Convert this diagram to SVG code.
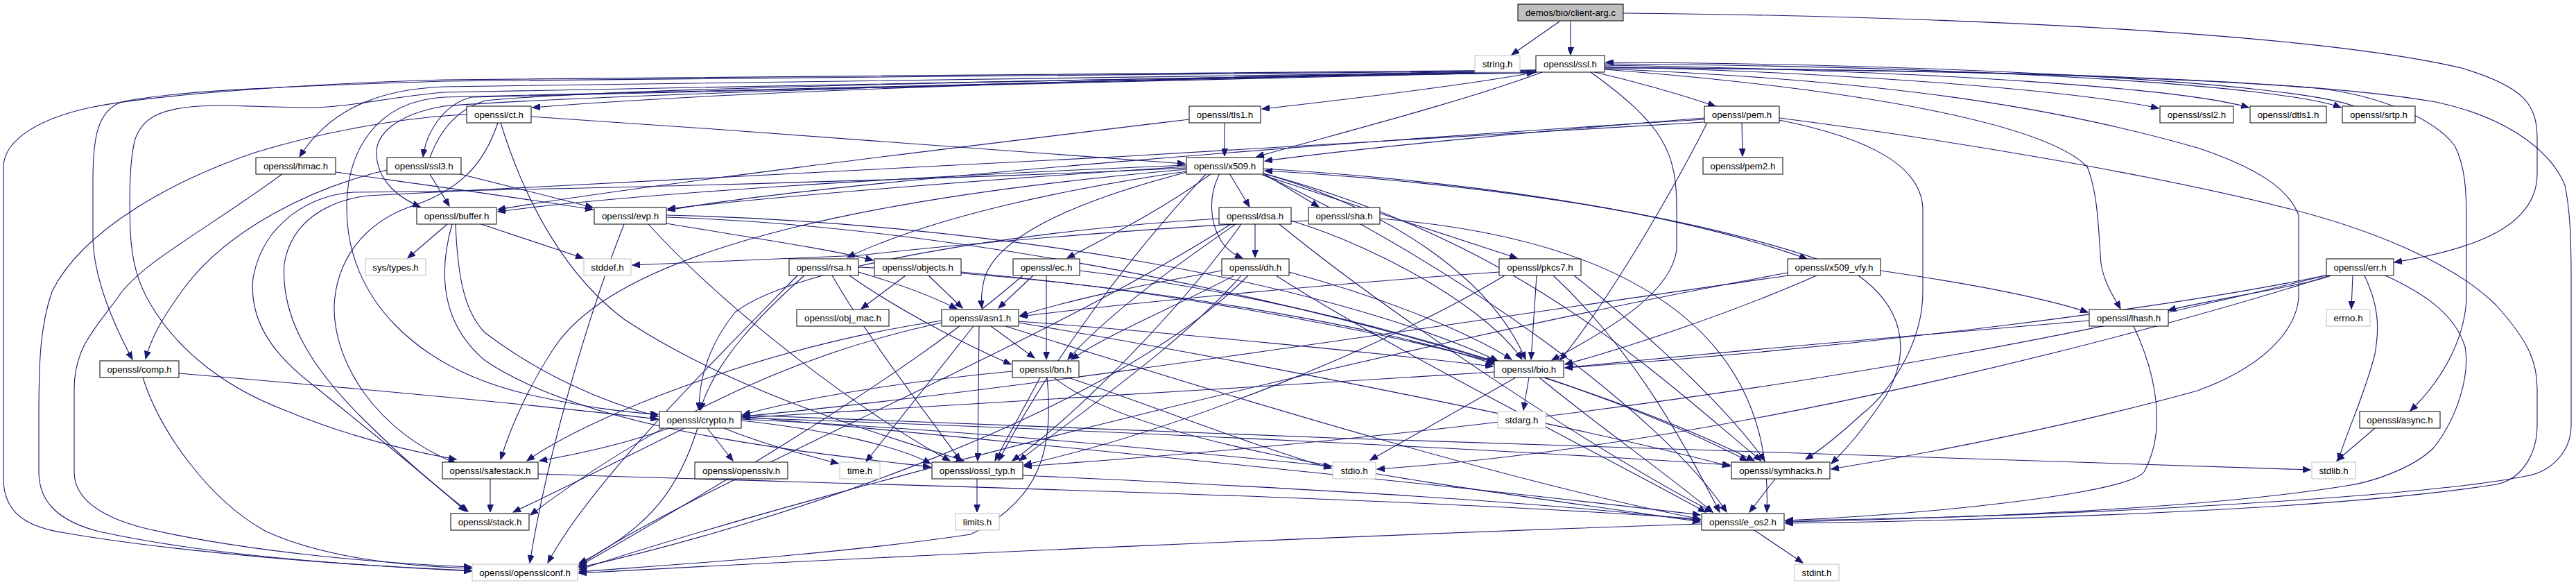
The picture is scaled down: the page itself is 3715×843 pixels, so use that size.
<svg xmlns="http://www.w3.org/2000/svg" width="3715" height="843" viewBox="0 0 3715 843">
<style>
.n rect{fill:#fff;stroke:#000;stroke-width:1}
.n.g rect{stroke:#bfbfbf}
.n.d rect{fill:#bfbfbf}
.n text{font-family:"Liberation Sans",Arial,sans-serif;font-size:13.3px;text-anchor:middle;fill:#000}
.e path{fill:none;stroke:#191970;stroke-width:1.1;marker-end:url(#a)}
</style>
<defs>
<marker id="a" markerWidth="12" markerHeight="9" refX="11" refY="4.5" orient="auto" markerUnits="userSpaceOnUse"><path d="M0,0 L11,4.5 L0,9 z" fill="#191970" stroke="#191970" stroke-width="1"/></marker>
</defs>
<rect width="3715" height="843" fill="#fff"/>
<g id="edges" class="e">
<path d="M2249,31 L2180,79"/>
<path d="M2265,31 L2265,79"/>
<path d="M2341,19 C2700,22 3300,40 3550,98 C3640,125 3659,150 3659,200 L3659,250 C3659,330 3560,360 3453,378"/>
<path d="M2215,101 C1800,110 1100,127 768,155"/>
<path d="M2216,104 C2100,125 1900,148 1820,157"/>
<path d="M2300,104 C2360,118 2420,135 2474,153"/>
<path d="M2314,96 C2700,106 3000,132 3113,156"/>
<path d="M2314,94 C2800,102 3150,128 3243,155"/>
<path d="M2314,92 C2900,96 3300,126 3376,155"/>
<path d="M3395,153 C3300,118 2800,92 2316,90"/>
<path d="M2224,104 C2100,150 1900,200 1812,226"/>
<path d="M2215,103 C1700,112 900,118 640,125 C560,128 480,150 432,226"/>
<path d="M2215,104 C1600,118 900,130 680,140 C640,150 615,190 610,226"/>
<path d="M2215,102 C1500,108 800,112 640,117 C450,123 250,130 175,147 C140,160 134,200 134,260 L134,340 C134,400 165,470 191,518"/>
<path d="M2215,101 C1500,105 800,110 640,115 C400,122 200,140 130,155 C60,170 6,200 5,240 L5,690 C5,740 40,760 94,768 C250,795 500,815 680,823"/>
<path d="M2215,103 C1500,112 900,125 640,133 C560,140 500,155 449,155 C380,155 330,150 286,153 C230,157 206,170 195,200 C187,230 186,280 188,333 C190,380 200,410 218,440 C260,510 330,560 408,590 C480,620 560,645 658,662"/>
<path d="M2215,104 C1500,115 800,140 640,153 C570,165 540,195 543,225 C546,262 575,285 606,298"/>
<path d="M2215,104 C1600,115 900,130 640,140 C540,146 500,220 500,300 C500,430 600,530 760,568 C850,588 900,594 949,597"/>
<path d="M2294,104 C2400,180 2418,220 2418,300 L2418,360 C2410,420 2330,470 2238,519"/>
<path d="M2314,100 C2700,130 2950,180 3010,240 C3026,280 3026,330 3030,380 C3035,410 3050,430 3058,445"/>
<path d="M2314,97 C2700,100 3100,108 3341,127 C3430,137 3510,170 3540,210 C3556,240 3557,280 3557,320 L3557,430 C3555,480 3530,540 3476,592"/>
<path d="M2314,98 C2800,100 3300,110 3513,147 C3620,170 3680,220 3699,267 C3706,300 3708,340 3708,400 L3708,613 C3708,650 3680,680 3643,686 C3500,715 3000,745 2575,750"/>
<path d="M2314,99 C2700,115 2950,150 3169,213 C3250,240 3300,270 3315,310 L3315,430 C3310,480 3260,530 3169,563 C3000,610 2800,650 2641,676"/>
<path d="M3362,397 C3330,410 3200,430 3127,447"/>
<path d="M3358,396 C3150,440 2700,500 2257,530"/>
<path d="M3358,396 C3100,460 2500,600 1477,672"/>
<path d="M3360,397 C3100,480 2500,640 1986,676"/>
<path d="M3393,397 L3391,445"/>
<path d="M3410,397 C3430,440 3432,470 3425,510 C3410,570 3385,620 3372,664"/>
<path d="M3440,397 C3490,420 3540,450 3555,500 C3562,540 3545,600 3510,645 C3480,675 3420,695 3384,700 C3200,730 2900,745 2575,752"/>
<path d="M2512,177 L2513,225"/>
<path d="M2458,170 C2200,190 1950,215 1824,232"/>
<path d="M2458,172 C2000,200 1200,260 963,303"/>
<path d="M2458,176 C1900,212 900,265 530,282 C470,290 420,320 410,380 C405,450 440,520 520,600 C590,670 640,710 675,737"/>
<path d="M2566,170 C2800,200 3100,250 3298,300 C3420,330 3540,380 3600,440 C3645,490 3659,520 3659,560 L3659,613 C3659,650 3640,690 3600,698 C3400,730 3000,748 2575,754"/>
<path d="M2566,173 C2700,200 2770,240 2773,300 L2773,420 C2773,500 2720,570 2686,596 C2660,620 2630,645 2604,662"/>
<path d="M2462,177 C2420,260 2330,420 2250,519"/>
<path d="M1773,250 L1802,298"/>
<path d="M1759,250 C1743,280 1743,320 1763,350 C1770,360 1780,367 1792,372"/>
<path d="M1747,250 C1680,300 1600,340 1539,372"/>
<path d="M1712,248 C1550,290 1440,340 1420,400 C1415,420 1415,435 1416,444"/>
<path d="M1711,247 C1550,270 1350,310 1222,371"/>
<path d="M1822,250 L1902,298"/>
<path d="M1820,252 L2188,372"/>
<path d="M1822,243 C2100,260 2400,300 2606,373"/>
<path d="M2620,373 C2400,300 2100,262 1824,246"/>
<path d="M1822,250 C2000,300 2150,400 2200,518"/>
<path d="M1822,250 C2200,350 2400,550 2540,664"/>
<path d="M1822,252 C2100,380 2400,600 2490,738"/>
<path d="M1711,240 C1400,260 1100,285 963,301"/>
<path d="M1711,238 C1300,255 900,280 718,305"/>
<path d="M1740,250 C1600,400 1500,550 1440,664"/>
<path d="M1711,244 C1300,280 900,350 800,500 C760,560 735,620 722,662"/>
<path d="M1711,242 C1300,262 700,275 510,277 C450,280 380,320 365,400 C360,450 380,500 449,553 C520,610 620,690 672,737"/>
<path d="M1766,177 L1766,225"/>
<path d="M1715,172 C1400,210 900,270 718,302"/>
<path d="M766,168 C1100,190 1500,220 1709,236"/>
<path d="M673,165 C600,168 480,185 367,220 C250,260 120,330 75,420 C58,470 56,520 56,600 L56,680 C56,720 80,750 143,766 C300,800 500,815 680,822"/>
<path d="M718,177 C700,230 670,270 600,295 C520,320 485,380 482,440 C480,520 540,620 658,668"/>
<path d="M722,177 C760,300 820,400 900,460 C1050,560 1250,620 1390,664"/>
<path d="M258,538 C400,550 700,575 949,604"/>
<path d="M206,544 C230,620 300,720 384,766 C460,800 560,815 680,819"/>
<path d="M408,250 C300,330 200,380 169,430 C140,470 107,500 107,560 L107,680 C107,710 130,740 204,760 C350,795 550,812 680,817"/>
<path d="M484,248 C600,265 750,285 855,302"/>
<path d="M558,245 C450,270 330,330 267,413 C240,450 220,480 210,517"/>
<path d="M620,251 L648,297"/>
<path d="M660,250 C720,265 800,285 855,299"/>
<path d="M620,227 C630,200 650,160 700,145 C900,125 1700,112 2213,105"/>
<path d="M645,323 L588,372"/>
<path d="M694,323 L841,372"/>
<path d="M657,323 C660,400 670,450 700,480 C780,540 870,580 949,600"/>
<path d="M652,323 C630,400 640,470 700,520 C850,620 1150,650 1342,673"/>
<path d="M961,322 C1100,345 1200,360 1259,375"/>
<path d="M900,323 C850,450 790,650 764,811"/>
<path d="M935,323 C1050,450 1250,600 1370,664"/>
<path d="M961,313 C1500,330 2200,500 2530,664"/>
<path d="M961,310 C1400,320 1900,400 2160,520"/>
<path d="M1810,323 L1810,371"/>
<path d="M1782,323 C1700,380 1600,450 1540,518"/>
<path d="M1758,315 C1500,330 1150,380 1060,450 C1020,500 1008,550 1008,591"/>
<path d="M1862,318 C2000,360 2150,450 2195,518"/>
<path d="M1845,323 C2000,450 2300,650 2470,738"/>
<path d="M1790,323 C1700,450 1550,600 1460,664"/>
<path d="M1775,323 C1500,500 1000,700 835,815"/>
<path d="M1887,318 C1700,325 1400,350 1240,368 L912,382"/>
<path d="M1990,315 C2300,340 2560,450 2548,738"/>
<path d="M1780,397 C1700,440 1600,480 1545,518"/>
<path d="M1762,390 C1650,410 1550,430 1471,455"/>
<path d="M1859,392 C2000,430 2120,480 2180,518"/>
<path d="M1790,397 C1700,500 1550,600 1470,664"/>
<path d="M1840,397 C2000,500 2300,650 2460,738"/>
<path d="M1800,397 C1600,600 1100,760 835,818"/>
<path d="M1238,392 C1300,410 1350,430 1380,445"/>
<path d="M1225,397 C1300,450 1400,500 1458,525"/>
<path d="M1160,397 C1100,450 1030,520 1010,591"/>
<path d="M1238,385 C1600,400 2000,470 2155,525"/>
<path d="M1200,397 C1260,500 1340,600 1385,664"/>
<path d="M1150,397 C1000,550 850,700 790,811"/>
<path d="M1306,397 L1242,445"/>
<path d="M1339,397 L1388,444"/>
<path d="M1386,392 C1700,420 2000,480 2155,522"/>
<path d="M1490,397 L1440,444"/>
<path d="M1509,397 L1509,518"/>
<path d="M1557,390 C1900,430 2300,550 2520,664"/>
<path d="M1475,397 C1300,550 950,750 835,816"/>
<path d="M2162,392 C1900,410 1600,440 1471,456"/>
<path d="M2216,397 L2208,518"/>
<path d="M2240,397 C2350,500 2420,620 2480,738"/>
<path d="M2270,397 C2400,500 2500,600 2545,664"/>
<path d="M2170,397 C2000,500 1700,620 1477,670"/>
<path d="M2578,393 C2000,500 1200,700 835,821"/>
<path d="M2712,390 C2850,410 2950,430 3011,450"/>
<path d="M2620,397 C2500,450 2350,500 2257,525"/>
<path d="M2580,397 C2200,450 1500,560 1071,600"/>
<path d="M2680,397 C2740,440 2760,500 2720,570 C2700,600 2670,640 2641,668"/>
<path d="M3077,470 C3110,540 3125,620 3092,680 C3070,710 2800,740 2575,750"/>
<path d="M3013,462 C2800,480 2500,505 2257,530"/>
<path d="M1404,470 L1249,665"/>
<path d="M1412,470 L1410,664"/>
<path d="M1429,470 L1492,516"/>
<path d="M1469,463 C1700,480 2000,510 2153,528"/>
<path d="M1469,465 C1800,520 2300,620 2495,672"/>
<path d="M1450,470 C1800,580 2200,700 2452,748"/>
<path d="M1358,465 C1100,520 900,640 765,742"/>
<path d="M1358,462 C1100,500 850,600 760,664"/>
<path d="M1500,544 L1435,664"/>
<path d="M1460,535 C1300,550 1150,575 1071,598"/>
<path d="M1540,544 C1650,580 1800,640 1920,675"/>
<path d="M1520,544 C1650,650 2100,700 2452,752"/>
<path d="M1510,544 C1520,650 1500,720 1400,770 C1200,800 950,815 835,824"/>
<path d="M2205,544 L2197,591"/>
<path d="M2186,544 L1976,663"/>
<path d="M2155,536 C1800,560 1300,585 1071,602"/>
<path d="M2220,544 C2300,610 2400,680 2470,738"/>
<path d="M965,617 C900,640 830,655 778,664"/>
<path d="M987,617 C900,660 800,710 740,738"/>
<path d="M1006,617 C980,700 940,760 835,812"/>
<path d="M1020,617 L1057,664"/>
<path d="M1044,617 C1100,640 1160,655 1209,668"/>
<path d="M1069,606 C1200,620 1300,645 1342,668"/>
<path d="M1069,604 C1400,620 1700,650 1920,672"/>
<path d="M1069,602 C1600,620 2200,650 2495,670"/>
<path d="M1069,600 C1500,640 2100,700 2452,742"/>
<path d="M1069,598 C1800,630 2800,660 3332,677"/>
<path d="M707,690 L707,738"/>
<path d="M776,683 C1300,700 2000,715 2452,748"/>
<path d="M2560,690 L2523,738"/>
<path d="M1409,690 L1409,738"/>
<path d="M1475,685 C1800,700 2200,720 2452,750"/>
<path d="M2454,755 C2000,770 1300,800 835,826"/>
<path d="M2530,764 L2600,811"/>
<path d="M3425,617 L3370,664"/>
</g>
<g id="node-demos" class="n d"><rect x="2189" y="6" width="152" height="24"/><text x="2265" y="22.5">demos/bio/client-arg.c</text></g>
<g id="node-string" class="n g"><rect x="2127" y="80" width="65" height="24"/><text x="2159.5" y="96.5">string.h</text></g>
<g id="node-ssl" class="n"><rect x="2215" y="80" width="99" height="24"/><text x="2264.5" y="96.5">openssl/ssl.h</text></g>
<g id="node-ct" class="n"><rect x="673" y="153" width="93" height="24"/><text x="719.5" y="169.5">openssl/ct.h</text></g>
<g id="node-tls1" class="n"><rect x="1715" y="153" width="103" height="24"/><text x="1766.5" y="169.5">openssl/tls1.h</text></g>
<g id="node-pem" class="n"><rect x="2458" y="153" width="108" height="24"/><text x="2512" y="169.5">openssl/pem.h</text></g>
<g id="node-ssl2" class="n"><rect x="3115" y="153" width="106" height="24"/><text x="3168" y="169.5">openssl/ssl2.h</text></g>
<g id="node-dtls1" class="n"><rect x="3245" y="153" width="110" height="24"/><text x="3300" y="169.5">openssl/dtls1.h</text></g>
<g id="node-srtp" class="n"><rect x="3378" y="153" width="105" height="24"/><text x="3430.5" y="169.5">openssl/srtp.h</text></g>
<g id="node-hmac" class="n"><rect x="369" y="227" width="115" height="24"/><text x="426.5" y="243.5">openssl/hmac.h</text></g>
<g id="node-ssl3" class="n"><rect x="558" y="227" width="107" height="24"/><text x="611.5" y="243.5">openssl/ssl3.h</text></g>
<g id="node-x509" class="n"><rect x="1711" y="227" width="111" height="24"/><text x="1766.5" y="243.5">openssl/x509.h</text></g>
<g id="node-pem2" class="n"><rect x="2456" y="227" width="115" height="24"/><text x="2513.5" y="243.5">openssl/pem2.h</text></g>
<g id="node-buffer" class="n"><rect x="601" y="299" width="115" height="24"/><text x="658.5" y="315.5">openssl/buffer.h</text></g>
<g id="node-evp" class="n"><rect x="857" y="299" width="104" height="24"/><text x="909" y="315.5">openssl/evp.h</text></g>
<g id="node-dsa" class="n"><rect x="1758" y="299" width="104" height="24"/><text x="1810" y="315.5">openssl/dsa.h</text></g>
<g id="node-sha" class="n"><rect x="1887" y="299" width="103" height="24"/><text x="1938.5" y="315.5">openssl/sha.h</text></g>
<g id="node-systypes" class="n g"><rect x="527" y="373" width="87" height="24"/><text x="570.5" y="389.5">sys/types.h</text></g>
<g id="node-stddef" class="n g"><rect x="842" y="373" width="68" height="24"/><text x="876" y="389.5">stddef.h</text></g>
<g id="node-rsa" class="n"><rect x="1138" y="373" width="100" height="24"/><text x="1188" y="389.5">openssl/rsa.h</text></g>
<g id="node-objects" class="n"><rect x="1261" y="373" width="125" height="24"/><text x="1323.5" y="389.5">openssl/objects.h</text></g>
<g id="node-ec" class="n"><rect x="1461" y="373" width="96" height="24"/><text x="1509" y="389.5">openssl/ec.h</text></g>
<g id="node-dh" class="n"><rect x="1762" y="373" width="97" height="24"/><text x="1810.5" y="389.5">openssl/dh.h</text></g>
<g id="node-pkcs7" class="n"><rect x="2162" y="373" width="118" height="24"/><text x="2221" y="389.5">openssl/pkcs7.h</text></g>
<g id="node-x509vfy" class="n"><rect x="2578" y="373" width="134" height="24"/><text x="2645" y="389.5">openssl/x509_vfy.h</text></g>
<g id="node-err" class="n"><rect x="3355" y="373" width="97" height="24"/><text x="3403.5" y="389.5">openssl/err.h</text></g>
<g id="node-objmac" class="n"><rect x="1149" y="446" width="133" height="24"/><text x="1215.5" y="462.5">openssl/obj_mac.h</text></g>
<g id="node-asn1" class="n"><rect x="1358" y="446" width="111" height="24"/><text x="1413.5" y="462.5">openssl/asn1.h</text></g>
<g id="node-lhash" class="n"><rect x="3013" y="446" width="114" height="24"/><text x="3070" y="462.5">openssl/lhash.h</text></g>
<g id="node-errno" class="n g"><rect x="3355" y="446" width="63" height="24"/><text x="3386.5" y="462.5">errno.h</text></g>
<g id="node-comp" class="n"><rect x="144" y="520" width="114" height="24"/><text x="201" y="536.5">openssl/comp.h</text></g>
<g id="node-bn" class="n"><rect x="1460" y="520" width="96" height="24"/><text x="1508" y="536.5">openssl/bn.h</text></g>
<g id="node-bio" class="n"><rect x="2155" y="520" width="100" height="24"/><text x="2205" y="536.5">openssl/bio.h</text></g>
<g id="node-async" class="n"><rect x="3403" y="593" width="116" height="24"/><text x="3461" y="609.5">openssl/async.h</text></g>
<g id="node-crypto" class="n"><rect x="951" y="593" width="118" height="24"/><text x="1010" y="609.5">openssl/crypto.h</text></g>
<g id="node-stdarg" class="n g"><rect x="2160" y="593" width="69" height="24"/><text x="2194.5" y="609.5">stdarg.h</text></g>
<g id="node-safestack" class="n"><rect x="638" y="666" width="138" height="24"/><text x="707" y="682.5">openssl/safestack.h</text></g>
<g id="node-opensslv" class="n"><rect x="1002" y="666" width="134" height="24"/><text x="1069" y="682.5">openssl/opensslv.h</text></g>
<g id="node-time" class="n g"><rect x="1211" y="666" width="58" height="24"/><text x="1240" y="682.5">time.h</text></g>
<g id="node-ossltyp" class="n"><rect x="1344" y="666" width="131" height="24"/><text x="1409.5" y="682.5">openssl/ossl_typ.h</text></g>
<g id="node-stdio" class="n g"><rect x="1922" y="666" width="62" height="24"/><text x="1953" y="682.5">stdio.h</text></g>
<g id="node-symhacks" class="n"><rect x="2497" y="666" width="142" height="24"/><text x="2568" y="682.5">openssl/symhacks.h</text></g>
<g id="node-stdlib" class="n g"><rect x="3334" y="666" width="63" height="24"/><text x="3365.5" y="682.5">stdlib.h</text></g>
<g id="node-stack" class="n"><rect x="650" y="740" width="113" height="24"/><text x="706.5" y="756.5">openssl/stack.h</text></g>
<g id="node-limits" class="n g"><rect x="1378" y="740" width="63" height="24"/><text x="1409.5" y="756.5">limits.h</text></g>
<g id="node-eos2" class="n"><rect x="2454" y="740" width="119" height="24"/><text x="2513.5" y="756.5">openssl/e_os2.h</text></g>
<g id="node-opensslconf" class="n g"><rect x="681" y="813" width="152" height="24"/><text x="757" y="829.5">openssl/opensslconf.h</text></g>
<g id="node-stdint" class="n g"><rect x="2588" y="813" width="64" height="24"/><text x="2620" y="829.5">stdint.h</text></g>
</svg>
